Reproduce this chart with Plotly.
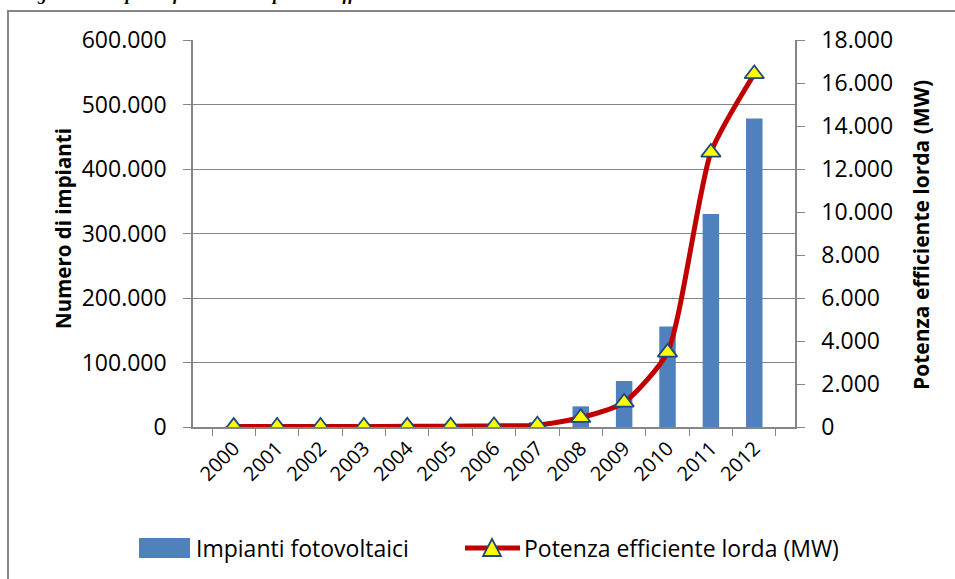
import plotly.graph_objects as go

# ── data ────────────────────────────────────────────────────────────────────
years = ["2000", "2001", "2002", "2003", "2004", "2005", "2006",
         "2007", "2008", "2009", "2010", "2011", "2012"]
impianti = [300, 400, 500, 700, 900, 1200, 2000,
            7647, 32018, 71288, 155977, 330196, 478331]
potenza_mw = [19, 20, 22, 26, 31, 37, 50,
              87, 432, 1144, 3470, 12773, 16420]

# ── geometry (pixels) ───────────────────────────────────────────────────────
W, H = 955, 579
L, R, T, B = 193, 795, 40, 427

def px(x):
    return (x - L) / (R - L)

def py(y):
    return (B - y) / (B - T)

BLUE = "#4F81BD"
RED = "#C00000"
AXIS = "#868686"
NAVY = "#1F497D"
FONT = "'Open Sans', Lato, sans-serif"
NARROW = "'Liberation Sans Narrow', 'Open Sans', sans-serif"

fig = go.Figure()

fig.add_trace(go.Bar(
    x=years, y=impianti, name="Impianti fotovoltaici",
    marker=dict(color=BLUE, line=dict(width=0)),
    width=0.38,
))

fig.add_trace(go.Scatter(
    x=years, y=potenza_mw, name="Potenza efficiente lorda (MW)",
    yaxis="y2", mode="lines+markers",
    line=dict(color=RED, width=5, shape="spline", smoothing=0.6),
    marker=dict(symbol="triangle-up", size=17, color="#FFFF00",
                line=dict(color=NAVY, width=1.8)),
))

fig.update_layout(
    width=W, height=H,
    margin=dict(l=L, r=W - R, t=T, b=H - B),
    paper_bgcolor="white", plot_bgcolor="white",
    separators=",.",
    font=dict(family=FONT, color="black", size=18),
    showlegend=False,
    xaxis=dict(
        type="category", showline=True, linecolor=AXIS, linewidth=1.5,
        ticks="outside", tickson="boundaries", tickcolor=AXIS, ticklen=7,
        tickangle=-45, tickfont=dict(size=20), showgrid=False,
    ),
    yaxis=dict(
        range=[0, 600000], dtick=100000, tickformat=",d",
        showline=True, linecolor=AXIS, linewidth=1.5,
        ticks="outside", tickcolor=AXIS, ticklen=8,
        showgrid=True, gridcolor=AXIS, gridwidth=1, zeroline=False,
        tickfont=dict(size=23), ticklabelstandoff=12,
    ),
    yaxis2=dict(
        range=[0, 18000], dtick=2000, tickformat=",d",
        overlaying="y", side="right",
        showline=True, linecolor=AXIS, linewidth=1.5,
        ticks="outside", tickcolor=AXIS, ticklen=8,
        showgrid=False, zeroline=False,
        tickfont=dict(size=23), ticklabelstandoff=12,
    ),
)

# axis titles
fig.add_annotation(text="<b>Numero di impianti</b>", textangle=-90,
                   x=px(63), y=py(229), xref="paper", yref="paper",
                   xanchor="center", yanchor="middle",
                   showarrow=False, font=dict(size=20.5))
fig.add_annotation(text="<b>Potenza efficiente lorda (MW)</b>", textangle=-90,
                   x=px(921), y=py(235), xref="paper", yref="paper",
                   xanchor="center", yanchor="middle",
                   showarrow=False, font=dict(size=21))

# caption above the chart (clipped by the page top, as in the source)
fig.add_annotation(text="<b><i>Figura 3 – Impianti fotovoltaici e potenza efficiente lorda</i></b>",
                   x=px(18), y=py(6), xref="paper", yref="paper",
                   xanchor="left", yanchor="bottom", showarrow=False,
                   font=dict(size=18, family="'Liberation Serif', serif"))

# outer chart border
fig.add_shape(type="rect", xref="paper", yref="paper",
              x0=px(8), x1=px(965), y0=py(595), y1=py(11),
              line=dict(color=AXIS, width=2), fillcolor="rgba(0,0,0,0)",
              layer="below")

# legend (drawn by hand to get Excel-sized swatches)
LY = 548
fig.add_shape(type="rect", xref="paper", yref="paper",
              x0=px(139), x1=px(190), y0=py(LY + 10), y1=py(LY - 10),
              line=dict(width=0), fillcolor=BLUE)
fig.add_annotation(text="Impianti fotovoltaici", x=px(194), y=py(LY),
                   xref="paper", yref="paper", xanchor="left", yanchor="middle",
                   showarrow=False, font=dict(size=23, family=NARROW))
fig.add_shape(type="line", xref="paper", yref="paper",
              x0=px(465), x1=px(520), y0=py(LY), y1=py(LY),
              line=dict(color=RED, width=5))
tri = (f"M {px(483)},{py(LY + 8)} L {px(501)},{py(LY + 8)} "
       f"L {px(492)},{py(LY - 9)} Z")
fig.add_shape(type="path", xref="paper", yref="paper", path=tri,
              fillcolor="#FFFF00", line=dict(color=NAVY, width=1.8))
fig.add_annotation(text="Potenza efficiente lorda (MW)", x=px(522), y=py(LY),
                   xref="paper", yref="paper", xanchor="left", yanchor="middle",
                   showarrow=False, font=dict(size=23, family=NARROW))

fig.write_html("out.html",
               config={"displayModeBar": False},
               post_script="document.body.style.margin='0';")
